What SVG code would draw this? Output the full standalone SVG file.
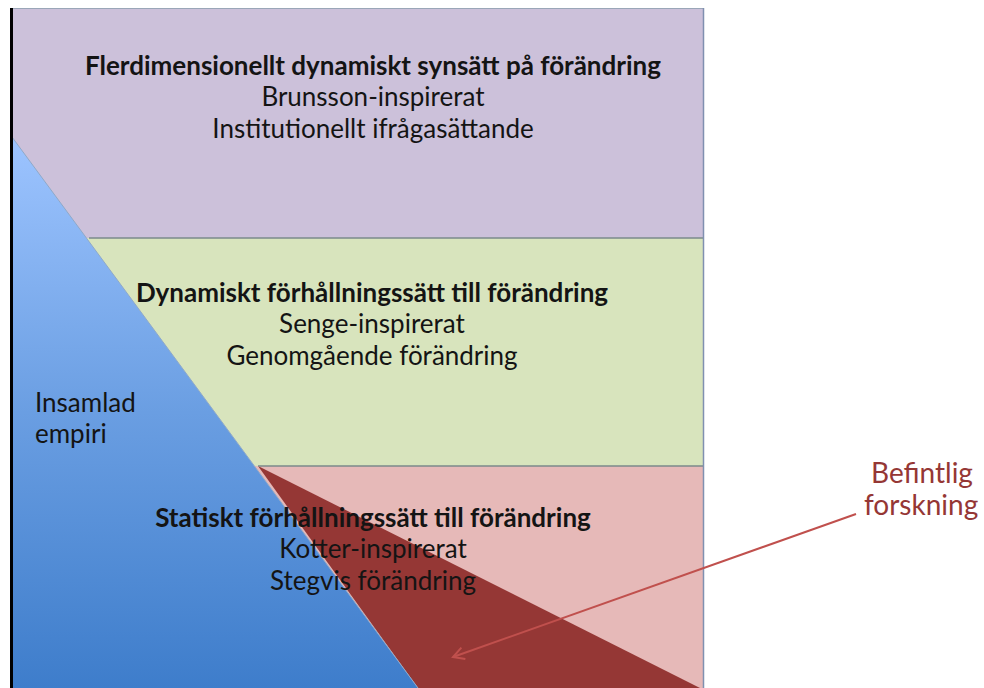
<svg xmlns="http://www.w3.org/2000/svg" width="984" height="688" viewBox="0 0 984 688">
<defs>
<linearGradient id="blueGrad" x1="0" y1="137" x2="0" y2="688" gradientUnits="userSpaceOnUse">
<stop offset="0" stop-color="#9DC4FF"/>
<stop offset="0.5" stop-color="#6A9EE2"/>
<stop offset="1" stop-color="#3E7DCB"/>
</linearGradient>
<marker id="arrowHead" viewBox="0 0 14 14" refX="12" refY="7" markerWidth="14" markerHeight="14" markerUnits="userSpaceOnUse" orient="auto">
<path d="M1,1 L12,7 L1,13" fill="none" stroke="#C0504D" stroke-width="2"/>
</marker>
<style>
text{font-family:Lato,"Liberation Sans",sans-serif;font-size:26px;fill:#141414;}
.b{font-weight:bold;}
.m{text-anchor:middle;}
.red{fill:#953735;font-size:28px;}
.div{stroke:#7B8A8B;stroke-width:1.5;fill:none;}
</style>
</defs>
<rect width="984" height="688" fill="#ffffff"/>
<g id="band-top">
<rect x="11" y="8" width="692" height="230" fill="#CCC1DA"/>
<text class="b m" x="373" y="75">Flerdimensionellt dynamiskt synsätt på förändring</text>
<text class="m" x="373" y="106">Brunsson-inspirerat</text>
<text class="m" x="373" y="138">Institutionellt ifrågasättande</text>
</g>
<g id="band-middle">
<rect x="11" y="238" width="692" height="228" fill="#D8E4BD"/>
</g>
<g id="band-bottom">
<rect x="11" y="466" width="692" height="222" fill="#E6B9B8"/>
</g>
<g id="existing-research-area">
<polygon points="258,466 700,688 418,688" fill="#953735"/>
</g>
<g id="collected-empirics">
<polygon points="12,137 418,688 12,688" fill="url(#blueGrad)"/>
<line x1="12" y1="137" x2="418" y2="688" stroke="#8FA9C8" stroke-width="1"/>
<text x="35" y="412">Insamlad</text>
<text x="35" y="443">empiri</text>
</g>
<g id="frame">
<line class="div" x1="89" y1="238" x2="703" y2="238"/>
<line class="div" x1="258" y1="466" x2="703" y2="466"/>
<line x1="10" y1="8.5" x2="703" y2="8.5" stroke="#9AA6B8" stroke-width="1"/>
<line x1="703.5" y1="8" x2="703.5" y2="688" stroke="#8090B0" stroke-width="1.5"/>
<line x1="11.5" y1="8" x2="11.5" y2="688" stroke="#000000" stroke-width="3"/>
</g>
<g id="labels-middle">
<text class="b m" x="372" y="302">Dynamiskt förhållningssätt till förändring</text>
<text class="m" x="372" y="333">Senge-inspirerat</text>
<text class="m" x="372" y="365">Genomgående förändring</text>
</g>
<g id="labels-bottom">
<text class="b m" x="373" y="527">Statiskt förhållningssätt till förändring</text>
<text class="m" x="373" y="558">Kotter-inspirerat</text>
<text class="m" x="373" y="590">Stegvis förändring</text>
</g>
<g id="befintlig-forskning">
<text class="red" x="871" y="483">Befintlig</text>
<text class="red" x="864" y="515">forskning</text>
</g>
<g id="connectors">
<line x1="856" y1="514" x2="453" y2="657" stroke="#C0504D" stroke-width="2" marker-end="url(#arrowHead)"/>
</g>
</svg>
